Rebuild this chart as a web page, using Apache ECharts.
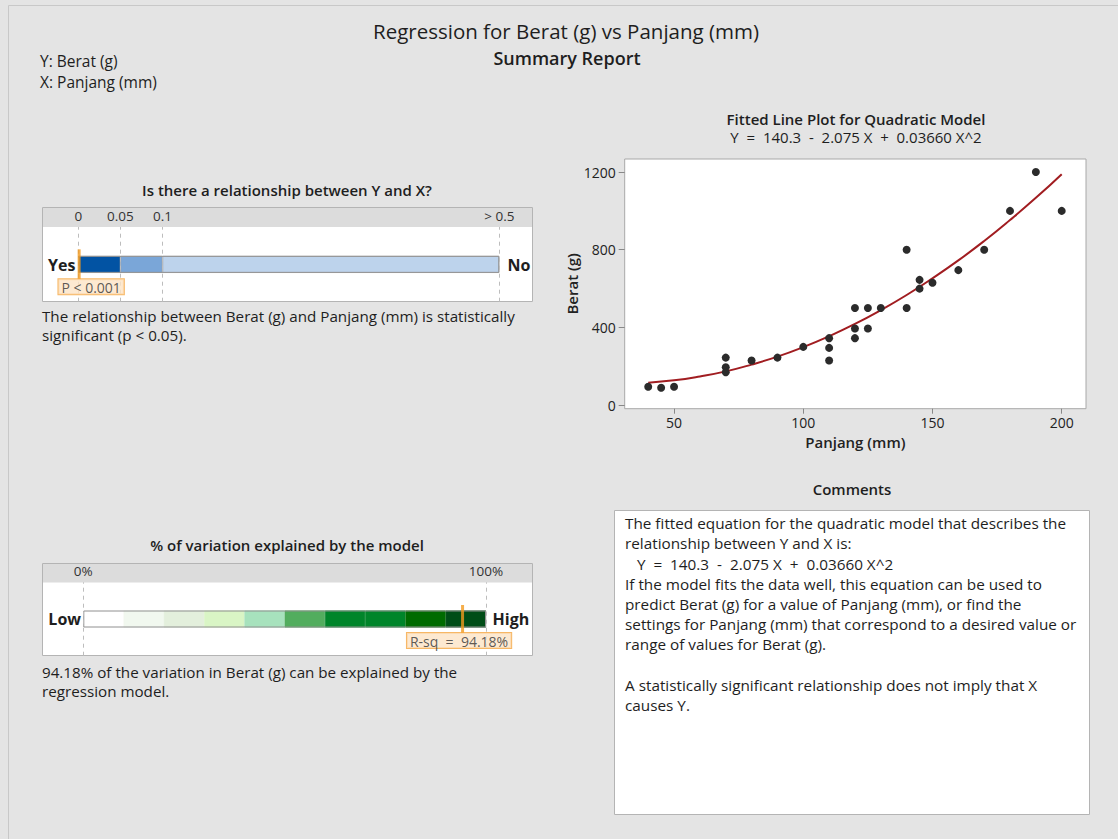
<!DOCTYPE html>
<html>
<head>
<meta charset="utf-8">
<script src="https://cdn.jsdelivr.net/npm/echarts@6/dist/echarts.min.js"></script>
<style>html,body{margin:0;padding:0;background:#e4e4e4}#c{width:1118px;height:839px}</style>
</head>
<body>
<div id="c"></div>
<script>
// ---------- data ----------
const panjang = [40, 45, 50, 70, 70, 70, 80, 90, 100, 110, 110, 110, 120, 120, 120, 125, 125, 130, 140, 140, 145, 145, 150, 160, 170, 180, 190, 200];
const berat   = [95, 90, 95, 245, 195, 170, 230, 245, 300, 345, 295, 230, 500, 395, 345, 500, 395, 500, 800, 500, 645, 600, 630, 695, 800, 1000, 1200, 1000];
const fitX = [40, 50, 60, 70, 80, 90, 100, 110, 120, 130, 140, 150, 160, 170, 180, 190, 200];
const fitY = [116, 128, 148, 174, 209, 250, 299, 355, 418, 489, 567, 653, 745, 845, 953, 1067, 1189];
const xTicks = [50, 100, 150, 200];
const yTicks = [0, 400, 800, 1200];

const pBands = [0, 0.05, 0.1, 0.5];
const pTickLabels = ['0', '0.05', '0.1', '> 0.5'];
const pBandColors = ['#0253a3', '#7aa6d8', '#bdd3ec'];
const pValue = 0.001;
const pLabel = 'P < 0.001';

const rsqBands = [0, 10, 20, 30, 40, 50, 60, 70, 80, 90, 100];
const rsqTickValues = [0, 100];
const rsqColors = ['#ffffff', '#f1f8ef', '#e3efdc', '#d9f5c5', '#a7e2bd', '#52ad5e', '#00852a', '#00852a', '#006b00', '#004d17'];
const rsq = 94.18;
const rsqLabel = 'R-sq  =  94.18%';

// ---------- styling ----------
const FONT = '"Open Sans", "Noto Sans", sans-serif';
const TXT = '#1e1e1e';
const EQ = 'Y  =  140.3  -  2.075 X  +  0.03660 X^2';

const chart = echarts.init(document.getElementById('c'), null, {renderer: 'svg'});

function text(x, y, str, size, opts) {
  opts = opts || {};
  return {
    type: 'text', x: x, y: y, z: 10,
    style: {
      text: str, fill: opts.color || TXT,
      font: (opts.weight || 'normal') + ' ' + size + 'px ' + FONT,
      align: opts.align || 'left', verticalAlign: opts.va || 'middle',
      lineHeight: opts.lh || undefined
    }
  };
}
function rect(x, y, w, h, fill, stroke, z) {
  return {type: 'rect', z: z || 0, shape: {x: x, y: y, width: w, height: h},
    style: {fill: fill, stroke: stroke || null, lineWidth: stroke ? 1 : 0}};
}

const graphics = [
  rect(8.5, 5.5, 1120, 840, 'none', '#c8c8c8'),
  text(566, 30.5, 'Regression for Berat (g) vs Panjang (mm)', 20.5, {align: 'center', lh: 21}),
  text(567, 57.5, 'Summary Report', 18, {weight: 600, align: 'center', lh: 19}),
  text(40, 61, 'Y: Berat (g)', 15.5, {lh: 17}),
  text(40, 82, 'X: Panjang (mm)', 15.5, {lh: 17}),
  text(856, 119, 'Fitted Line Plot for Quadratic Model', 15, {weight: 600, align: 'center', lh: 16}),
  text(856, 137, EQ, 15, {align: 'center', lh: 16}),
  // p-value panel
  text(287, 190, 'Is there a relationship between Y and X?', 15, {weight: 600, align: 'center'}),
  rect(42.5, 207.5, 490, 94, '#ffffff', '#b4b4b4'),
  rect(43, 208, 489, 19, '#dcdcdc', null),
  text(75.5, 264.5, 'Yes', 16, {weight: 'bold', align: 'right'}),
  text(507.5, 264.5, 'No', 16, {weight: 'bold'}),
  text(42, 306, 'The relationship between Berat (g) and Panjang (mm) is statistically\nsignificant (p < 0.05).', 15.2, {va: 'top', lh: 19.5}),
  // R-sq panel
  text(287, 545, '% of variation explained by the model', 15, {weight: 600, align: 'center'}),
  rect(42.5, 563.5, 490, 92, '#ffffff', '#b4b4b4'),
  rect(43, 564, 489, 18.5, '#dcdcdc', null),
  text(81, 619, 'Low', 16, {weight: 'bold', align: 'right'}),
  text(492.5, 619, 'High', 16, {weight: 'bold'}),
  text(42, 662, '94.18% of the variation in Berat (g) can be explained by the\nregression model.', 15.2, {va: 'top', lh: 19.5}),
  // Comments
  text(852, 489, 'Comments', 15, {weight: 600, align: 'center'}),
  rect(614.5, 510.5, 475, 304, '#ffffff', '#b4b4b4'),
  text(625, 513, [
    'The fitted equation for the quadratic model that describes the',
    'relationship between Y and X is:',
    '   ' + EQ,
    'If the model fits the data well, this equation can be used to',
    'predict Berat (g) for a value of Panjang (mm), or find the',
    'settings for Panjang (mm) that correspond to a desired value or',
    'range of values for Berat (g).',
    '',
    'A statistically significant relationship does not imply that X',
    'causes Y.'
  ].join('\n'), 15.3, {va: 'top', lh: 20.2})
];

// ---------- series ----------
const series = [];
for (let i = 0; i < pBandColors.length; i++) {
  series.push({
    type: 'bar', xAxisIndex: 0, yAxisIndex: 0, stack: 'p', barWidth: 17, barGap: '-100%', z: 2,
    data: [pBands[i + 1] - pBands[i]],
    itemStyle: {color: pBandColors[i], borderColor: '#a0a0a0', borderWidth: 0.6}, silent: true
  });
}
series.push({
  type: 'bar', xAxisIndex: 0, yAxisIndex: 0, barWidth: 17, barGap: '-100%', z: 3,
  data: [pBands[pBands.length - 1]],
  itemStyle: {color: 'transparent', borderColor: '#909090', borderWidth: 1}, silent: true
});
series.push({
  type: 'scatter', xAxisIndex: 0, yAxisIndex: 0, z: 1, data: [], silent: true,
  markLine: {silent: true, symbol: ['none', 'none'], animation: false,
    lineStyle: {type: [4, 4], color: '#bdbdbd', width: 1}, label: {show: false},
    data: pBands.map(v => ({xAxis: v}))}
});
series.push({
  type: 'scatter', xAxisIndex: 0, yAxisIndex: 0, z: 5, symbol: 'rect', symbolSize: [3, 30],
  data: [[pValue, 0]], itemStyle: {color: '#f39a1e'},
  label: {show: true, position: 'bottom', distance: 0, offset: [12, 0], formatter: pLabel,
    fontFamily: FONT, fontSize: 14, color: '#333', backgroundColor: '#fde4c6',
    borderColor: '#f5a53e', borderWidth: 1, padding: [1, 3, 0, 3]}
});
for (let i = 0; i < rsqColors.length; i++) {
  series.push({
    type: 'bar', xAxisIndex: 1, yAxisIndex: 1, stack: 'r', barWidth: 17, barGap: '-100%', z: 2,
    data: [rsqBands[i + 1] - rsqBands[i]],
    itemStyle: {color: rsqColors[i], borderColor: rsqColors[i], borderWidth: 0.6}, silent: true
  });
}
series.push({
  type: 'bar', xAxisIndex: 1, yAxisIndex: 1, barWidth: 17, barGap: '-100%', z: 3,
  data: [rsqBands[rsqBands.length - 1]],
  itemStyle: {color: 'transparent', borderColor: '#909090', borderWidth: 1}, silent: true
});
series.push({
  type: 'scatter', xAxisIndex: 1, yAxisIndex: 1, z: 1, data: [], silent: true,
  markLine: {silent: true, symbol: ['none', 'none'], animation: false,
    lineStyle: {type: [4, 4], color: '#bdbdbd', width: 1}, label: {show: false},
    data: rsqTickValues.map(v => ({xAxis: v}))}
});
series.push({
  type: 'scatter', xAxisIndex: 1, yAxisIndex: 1, z: 5, symbol: 'rect', symbolSize: [3, 28],
  data: [[rsq, 0]], itemStyle: {color: '#f39a1e'},
  label: {show: true, position: 'bottom', distance: 0, offset: [-3.5, 0], formatter: rsqLabel,
    fontFamily: FONT, fontSize: 14, color: '#333', backgroundColor: '#fde4c6',
    borderColor: '#f5a53e', borderWidth: 1, padding: [1, 3, 0, 3]}
});
series.push({
  type: 'line', xAxisIndex: 2, yAxisIndex: 2, z: 3, smooth: true, showSymbol: false,
  data: fitX.map((x, i) => [x, fitY[i]]),
  lineStyle: {color: '#a11d21', width: 2}, itemStyle: {color: '#a11d21'}
});
series.push({
  type: 'scatter', xAxisIndex: 2, yAxisIndex: 2, z: 4, symbolSize: 8,
  data: panjang.map((x, i) => [x, berat[i]]),
  itemStyle: {color: '#2b2b2b', opacity: 1}
});

const catAxis = (idx, name) => ({gridIndex: idx, type: 'category', data: [name], show: false});

chart.setOption({
  backgroundColor: '#e4e4e4',
  animation: false,
  textStyle: {fontFamily: FONT},
  graphic: graphics,
  grid: [
    {left: 78.3, width: 421, top: 227, height: 74.7},
    {left: 83.3, width: 402.7, top: 582.3, height: 73.4},
    {left: 624.7, width: 461.3, top: 159, height: 249.7, show: true, backgroundColor: '#ffffff', borderColor: '#a8a8a8', borderWidth: 1}
  ],
  xAxis: [
    {gridIndex: 0, type: 'value', min: pBands[0], max: pBands[pBands.length - 1], position: 'top',
      axisLine: {show: false}, axisTick: {show: false}, splitLine: {show: false},
      axisLabel: {customValues: pBands, formatter: v => pTickLabels[pBands.indexOf(v)], margin: 4, fontSize: 13.5, color: '#333', showMinLabel: true, showMaxLabel: true}},
    {gridIndex: 1, type: 'value', min: 0, max: 100, position: 'top',
      axisLine: {show: false}, axisTick: {show: false}, splitLine: {show: false},
      axisLabel: {customValues: rsqTickValues, formatter: v => v + '%', margin: 4, fontSize: 13.5, color: '#333', showMinLabel: true, showMaxLabel: true}},
    {gridIndex: 2, type: 'value', min: 30.9, max: 209.4, position: 'bottom',
      axisLine: {show: false, onZero: false}, splitLine: {show: false},
      axisTick: {show: true, customValues: xTicks, length: 5, lineStyle: {color: '#888'}},
      axisLabel: {customValues: xTicks, margin: 7, fontSize: 14, color: '#222', formatter: v => String(v)},
      name: 'Panjang (mm)', nameLocation: 'middle', nameGap: 26,
      nameTextStyle: {fontSize: 15, fontWeight: 600, color: '#222'}}
  ],
  yAxis: [
    catAxis(0, 'p'),
    catAxis(1, 'r'),
    {gridIndex: 2, type: 'value', min: -18, max: 1267,
      axisLine: {show: false, onZero: false}, splitLine: {show: false},
      axisTick: {show: true, customValues: yTicks, length: 6, lineStyle: {color: '#888'}},
      axisLabel: {customValues: yTicks, margin: 9, fontSize: 14, color: '#222', formatter: v => String(v)},
      name: 'Berat (g)', nameLocation: 'middle', nameGap: 45,
      nameTextStyle: {fontSize: 15, fontWeight: 600, color: '#222'}}
  ],
  series: series
});
</script>
</body>
</html>
